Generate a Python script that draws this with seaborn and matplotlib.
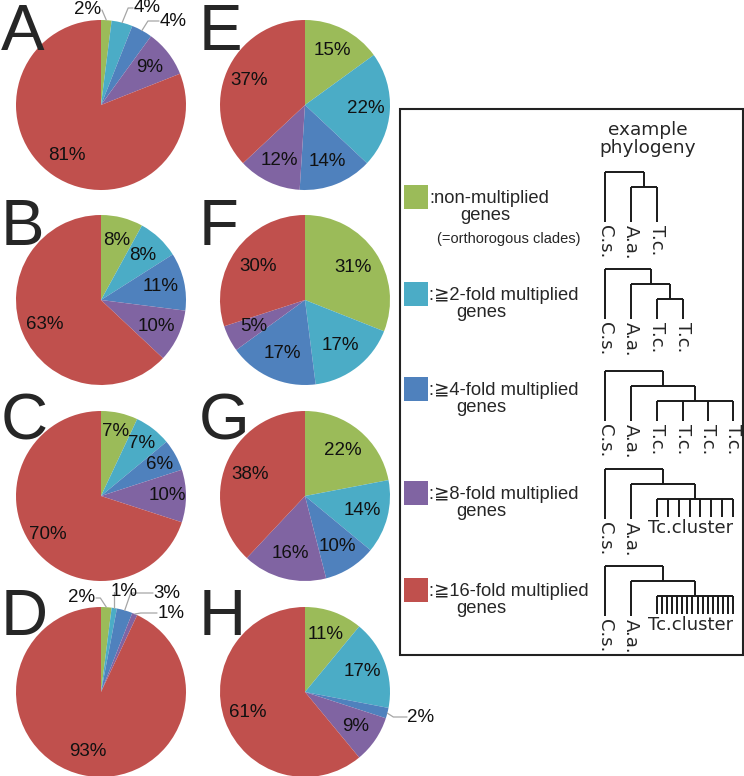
import numpy as np
import matplotlib.pyplot as plt
import seaborn as sns
from matplotlib.patches import Rectangle

sns.set_theme(style="white")
plt.rcParams['font.family'] = ['Liberation Sans', 'DejaVu Sans']

# data
categories = ["non-multiplied", "≧2-fold", "≧4-fold", "≧8-fold", "≧16-fold"]
colors = sns.color_palette(["#9BBB59", "#4BACC6", "#4F81BD", "#8064A2", "#C0504D"])

panel_letters = ["A", "B", "C", "D", "E", "F", "G", "H"]
panel_a = [2, 4, 4, 9, 81]
panel_b = [8, 8, 11, 10, 63]
panel_c = [7, 7, 6, 10, 70]
panel_d = [2, 1, 3, 1, 93]
panel_e = [15, 22, 14, 12, 37]
panel_f = [31, 17, 17, 5, 30]
panel_g = [22, 14, 10, 16, 38]
panel_h = [11, 17, 2, 9, 61]
panels = [panel_a, panel_b, panel_c, panel_d, panel_e, panel_f, panel_g, panel_h]

legend_line1 = [":non-multiplied", ":≧2-fold multiplied", ":≧4-fold multiplied",
                ":≧8-fold multiplied", ":≧16-fold multiplied"]

# layout (pixels)
W, H = 744, 776
R = 85
col_x = [101, 305]
row_y = [105, 300, 496, 692]
pct_dist = [0.72, 0.72, 0.78, 0.72, 0.72, 0.68, 0.70, 0.72]
# small slices labelled outside: panel -> {slice: label offset from centre (px)}
callouts = {
    0: {0: (-13, -95), 1: (46, -97), 2: (72, -84)},
    3: {0: (-19, -94), 1: (23, -100), 2: (66, -99), 3: (70, -79)},
    7: {2: (116, 25)},
}

fig = plt.figure(figsize=(W / 100, H / 100), dpi=100)

for i, vals in enumerate(panels):
    cx = col_x[i // 4]
    cy = row_y[i % 4]
    ax = fig.add_axes([(cx - 100) / W, 1 - (cy + 100) / H, 200 / W, 200 / H])
    wedges, texts, autotexts = ax.pie(
        vals, colors=colors, startangle=90, counterclock=False,
        autopct='%.0f%%', pctdistance=pct_dist[i],
        wedgeprops=dict(linewidth=0),
        textprops=dict(fontsize=13.5, color='#111111'))
    lim = 100 / R
    ax.set_xlim(-lim, lim)
    ax.set_ylim(-lim, lim)
    ax.set_aspect('equal')
    ax.axis('off')

    for j, (tx, ty) in callouts.get(i, {}).items():
        autotexts[j].set_visible(False)
        w = wedges[j]
        mid = np.deg2rad((w.theta1 + w.theta2) / 2)
        ex, ey = np.cos(mid) * R, -np.sin(mid) * R
        sign = 1 if tx > ex else -1
        end_x = tx - sign * 14
        elb_x = ex + sign * min(6, max(0, sign * (end_x - ex)))
        end_x = elb_x if sign * (end_x - elb_x) < 0 else end_x
        px = np.array([ex, elb_x, end_x]) / R
        py = -np.array([ey, ty, ty]) / R
        ax.plot(px, py, color='#A6A6A6', lw=0.9, clip_on=False)
        ax.text(tx / R, -ty / R, f"{vals[j]}%", fontsize=13.5, color='#111111',
                ha='center', va='center', clip_on=False)

# panel letters
letter_x = [0.5, 199]
letter_base = [50, 245, 440, 635]
for i, letter in enumerate(panel_letters):
    fig.text((letter_x[i // 4]) / W, 1 - letter_base[i % 4] / H, letter,
             fontsize=47, va='baseline', ha='left', family='Liberation Sans')

# legend box with example phylogenies
lg = fig.add_axes([0, 0, 1, 1])
lg.set_xlim(0, W)
lg.set_ylim(H, 0)
lg.axis('off')
lg.add_patch(Rectangle((400, 109), 343, 546, fill=False, lw=1.5, ec='#222222'))

lg.text(648, 135, "example", ha='center', va='baseline', fontsize=13.3, family='DejaVu Sans')
lg.text(648, 153, "phylogeny", ha='center', va='baseline', fontsize=13.3, family='DejaVu Sans')

square_top = [185, 282, 377, 481, 578]
genes_x = [460, 456, 456, 456, 456]
for k in range(5):
    lg.add_patch(Rectangle((404, square_top[k]), 24, 24, color=colors[k], lw=0))
    lg.text(429, square_top[k] + 18, legend_line1[k], fontsize=13.2, va='baseline',
            family=['Liberation Sans', 'DejaVu Sans'])
    lg.text(genes_x[k], square_top[k] + 35, "genes", fontsize=13.2, va='baseline')
lg.text(437, 243, "(=orthorogous clades)", fontsize=10.5, va='baseline')

tree_top = [172, 269, 371, 469, 566]
leaf_x = [605, 631, 657, 683, 708, 733]
tkw = dict(color='#1a1a1a', lw=1.4, solid_capstyle='butt')
lab_kw = dict(rotation=-90, ha='center', va='top', fontsize=13, family='DejaVu Sans')


def draw_tree(top, n_tc, cluster=False, n_ticks=0):
    y1, y2, y3 = top, top + 15, top + 30
    bottom = top + 50
    if n_tc == 1:
        inner_mid = (631 + 657) / 2
        lg.plot([631, 657], [y2, y2], **tkw)
        lg.plot([631, 631], [y2, bottom], **tkw)
        lg.plot([657, 657], [y2, bottom], **tkw)
        root_mid = inner_mid
        labels = [(605, "C.s."), (631, "A.a."), (657, "T.c.")]
    else:
        if cluster:
            tc_x = list(np.linspace(657, 733, n_ticks))
        else:
            tc_x = leaf_x[2:2 + n_tc]
        tc_mid = (tc_x[0] + tc_x[-1]) / 2
        lg.plot([tc_x[0], tc_x[-1]], [y3, y3], **tkw)
        tick_end = y3 + 18 if cluster else bottom
        for x in tc_x:
            lg.plot([x, x], [y3, tick_end], **tkw)
        lg.plot([631, tc_mid], [y2, y2], **tkw)
        lg.plot([tc_mid, tc_mid], [y2, y3], **tkw)
        lg.plot([631, 631], [y2, bottom], **tkw)
        root_mid = (631 + tc_mid) / 2
        labels = [(605, "C.s."), (631, "A.a.")]
        if cluster:
            lg.text(648, tick_end + 11, "Tc.cluster", fontsize=13, va='center',
                    family='DejaVu Sans')
        else:
            labels += [(x, "T.c.") for x in tc_x]
    lg.plot([605, root_mid], [y1, y1], **tkw)
    lg.plot([605, 605], [y1, bottom], **tkw)
    lg.plot([root_mid, root_mid], [y1, y2], **tkw)
    for x, s in labels:
        lg.text(x, bottom + 3, s, **lab_kw)


draw_tree(tree_top[0], 1)
draw_tree(tree_top[1], 2)
draw_tree(tree_top[2], 4)
draw_tree(tree_top[3], 0, cluster=True, n_ticks=8)
draw_tree(tree_top[4], 0, cluster=True, n_ticks=16)

fig.savefig("out.png", dpi=100)
